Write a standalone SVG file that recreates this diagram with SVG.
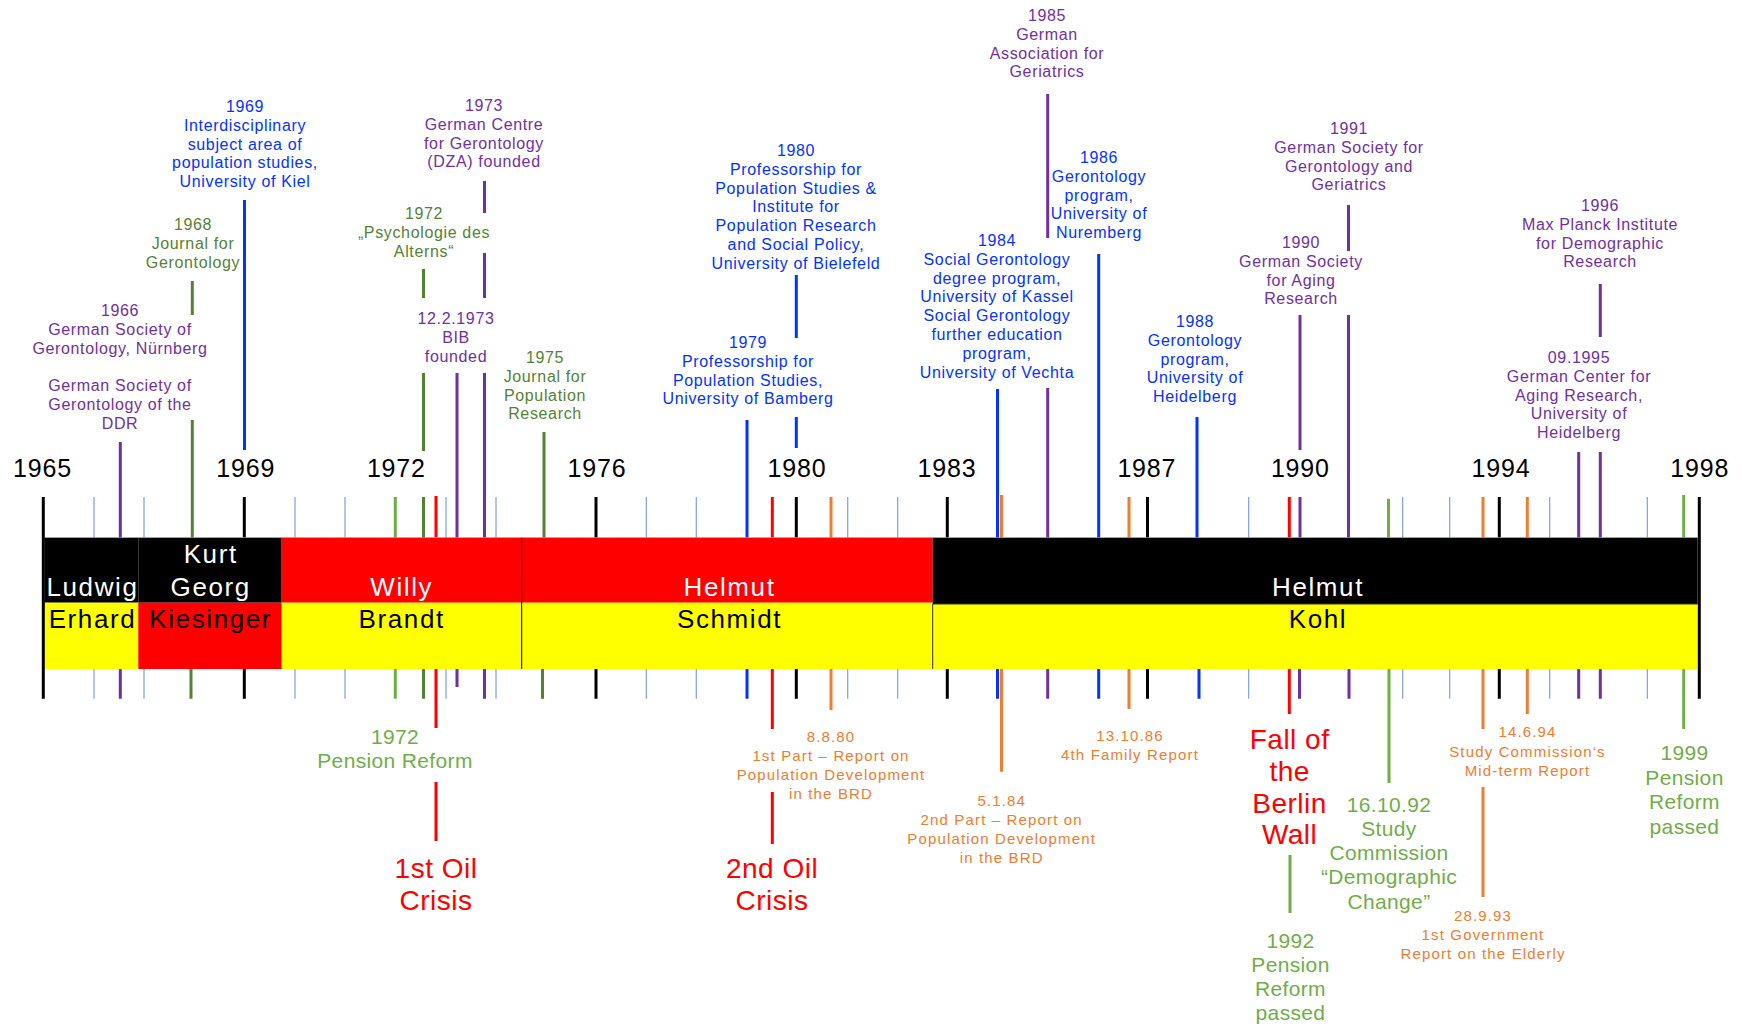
<svg xmlns="http://www.w3.org/2000/svg" width="1742" height="1027" viewBox="0 0 1742 1027">
<style>
text{font-family:"Liberation Sans",Arial,sans-serif;text-anchor:middle}
.s{font-size:16px;letter-spacing:0.65px}
.o{font-size:15px;letter-spacing:1.15px}
.m{font-size:21px;letter-spacing:0.35px}
.b{font-size:28px;letter-spacing:0.5px}
.yr{font-size:25px;letter-spacing:0.8px;fill:#000}
.bt{font-size:26px;letter-spacing:1.6px}
.pu{fill:#7030A0}.bl{fill:#0433FF}.dg{fill:#548235}.lg{fill:#70AD47}.rd{fill:#FF0000}.or{fill:#ED7D31}
.w{fill:#fff}.k{fill:#000}
.ln{fill:none;stroke-width:3}
.lpu{stroke:#7030A0}.lbl{stroke:#0433FF}.ldg{stroke:#548235}.llg{stroke:#70AD47}.lrd{stroke:#FF0000}.lor{stroke:#ED7D31}.lk{stroke:#000}
.minor{fill:none;stroke:#7F9FDD;stroke-width:1.2}
</style>
<rect width="1742" height="1027" fill="#fff"/>
<g id="axis">
<path class="minor" d="M94 497V537.7M94 669V698.7M144 497V537.7M144 669V698.7M295 497V537.7M295 669V698.7M345 497V537.7M345 669V698.7M446 497V537.7M446 669V698.7M496 497V537.7M496 669V698.7M646.3 497V537.7M646.3 669V698.7M696.3 497V537.7M696.3 669V698.7M847.7 497V537.7M847.7 669V698.7M897.7 497V537.7M897.7 669V698.7M1248.7 497V537.7M1248.7 669V698.7M1402.7 497V537.7M1402.7 669V698.7M1449.7 497V537.7M1449.7 669V698.7M1549.7 497V537.7M1549.7 669V698.7M1647.3 497V537.7M1647.3 669V698.7"/>
<path class="ln lk" d="M244.3 497V537.7M244.3 669V698.7M596 497V537.7M596 669V698.7M796.3 497V537.7M796.3 669V698.7M947.3 497V537.7M947.3 669V698.7M1147.5 497V537.7M1147.5 669V698.7M1499.3 497V537.7M1499.3 669V698.7"/>
<text class="yr" x="42.5" y="476.7">1965</text>
<text class="yr" x="245.7" y="476.7">1969</text>
<text class="yr" x="396.3" y="476.7">1972</text>
<text class="yr" x="597" y="476.7">1976</text>
<text class="yr" x="797" y="476.7">1980</text>
<text class="yr" x="947" y="476.7">1983</text>
<text class="yr" x="1146.8" y="476.7">1987</text>
<text class="yr" x="1300.3" y="476.7">1990</text>
<text class="yr" x="1501" y="476.7">1994</text>
<text class="yr" x="1699.7" y="476.7">1998</text>
</g>
<g id="connectors">
<path class="ln lpu" d="M120.3 442V537.7M120.3 669V698.7M457 373V537.7M457 669V687M484.5 181V213M484.5 253V298M484.5 373V537.7M484.5 669V698.7M1047.7 94V238M1047.7 388V537.7M1047.7 669V698.7M1300 315V450M1300 497V537.7M1299.5 669V698.7M1348.5 205V251M1348.5 315V537.7M1349 669V698.7M1578.7 452V537.7M1578.7 669V698.7M1600.3 284V337M1600.3 452V537.7M1600.3 669V698.7"/>
<path class="ln ldg" d="M192.3 281V315M192.3 420V537.7M191 669V698.7M423.5 269V298M423.5 373V451M423.5 497V537.7M423.5 669V698.7M544 432V537.7M542.5 669V698.7"/>
<path class="ln llg" d="M395.3 497V537.7M395.3 669V698.7M1388.5 498.7V537.7M1389 669V783M1683.7 495V537.7M1683.7 669V729M1290 855V913"/>
<path class="ln lbl" d="M244.5 200V450M747 420V537.7M747 669V698.7M796.3 275V338M796.3 417V448M997.5 389V537.7M997.5 669V698.7M1098.7 254V537.7M1098.7 669V698.7M1197 417V537.7M1199 669V698.7"/>
<path class="ln lrd" d="M436 496V537.7M436 669V728M436 782V841M772.3 497V537.7M772.3 669V729M772.3 792V844M1289.3 497V537.7M1289.3 669V714"/>
<path class="ln lor" d="M831 497V537.7M831 669V710M1001.5 495V537.7M1001.5 669V771.7M1129 497V537.7M1129 669V709M1483 497V537.7M1483 669V729M1483 787V897M1527.3 497V537.7M1527.3 669V714"/>
</g>
<g id="chancellors">
<g id="erhard">
<rect x="44.5" y="537.7" width="93.8" height="65" fill="#000"/>
<rect x="44.5" y="602.7" width="93.8" height="66.3" fill="#FFFF00"/>
<text class="bt w" x="92.5" y="596">Ludwig</text>
<text class="bt k" x="92.5" y="628.3">Erhard</text>
</g>
<g id="kiesinger">
<rect x="138.3" y="537.7" width="143.4" height="65" fill="#000"/>
<rect x="138.3" y="602.7" width="143.4" height="66.3" fill="#FF0000"/>
<text class="bt w" x="210.7" y="563.3">Kurt<tspan x="210.7" y="596">Georg</tspan></text>
<text class="bt k" x="210.7" y="628.3">Kiesinger</text>
</g>
<g id="brandt">
<rect x="281.7" y="537.7" width="240" height="65" fill="#FF0000"/>
<rect x="281.7" y="602.7" width="240" height="66.3" fill="#FFFF00"/>
<text class="bt w" x="401.7" y="596">Willy</text>
<text class="bt k" x="401.7" y="628.3">Brandt</text>
</g>
<g id="schmidt">
<rect x="521.7" y="537.7" width="411" height="65" fill="#FF0000"/>
<rect x="521.7" y="602.7" width="411" height="66.3" fill="#FFFF00"/>
<path d="M521.7 537.7V669" stroke="#000" stroke-width="1"/>
<text class="bt w" x="729.5" y="596">Helmut</text>
<text class="bt k" x="729.5" y="628.3">Schmidt</text>
</g>
<g id="kohl">
<rect x="932.7" y="537.7" width="765" height="66.3" fill="#000"/>
<rect x="932.7" y="604" width="765" height="65" fill="#FFFF00"/>
<path d="M932.7 669V604H1697.7" fill="none" stroke="#333" stroke-width="1"/>
<text class="bt w" x="1318" y="596">Helmut</text>
<text class="bt k" x="1318" y="628.3">Kohl</text>
</g>
<path d="M44 537.5H1698" stroke="#999" stroke-width="1" opacity="0.6"/>
<path class="ln lk" d="M43.3 497V698.7M1699.3 497V698.7"/>
</g>
<g id="events-above">
<g id="e1966"><text class="s pu" x="120" y="316">1966<tspan x="120" y="334.8">German Society of</tspan><tspan x="120" y="353.6">Gerontology, Nürnberg</tspan></text></g>
<g id="eDDR"><text class="s pu" x="120" y="391">German Society of<tspan x="120" y="409.8">Gerontology of the</tspan><tspan x="120" y="428.6">DDR</tspan></text></g>
<g id="e1968"><text class="s dg" x="193" y="230">1968<tspan x="193" y="248.8">Journal for</tspan><tspan x="193" y="267.6">Gerontology</tspan></text></g>
<g id="e1969"><text class="s bl" x="245" y="112">1969<tspan x="245" y="130.8">Interdisciplinary</tspan><tspan x="245" y="149.6">subject area of</tspan><tspan x="245" y="168.4">population studies,</tspan><tspan x="245" y="187.2">University of Kiel</tspan></text></g>
<g id="e1972p"><text class="s dg" x="424" y="219">1972<tspan x="424" y="237.8">„Psychologie des</tspan><tspan x="424" y="256.6">Alterns“</tspan></text></g>
<g id="e1973"><text class="s pu" x="484" y="111">1973<tspan x="484" y="129.8">German Centre</tspan><tspan x="484" y="148.6">for Gerontology</tspan><tspan x="484" y="167.4">(DZA) founded</tspan></text></g>
<g id="eBIB"><text class="s pu" x="456" y="324">12.2.1973<tspan x="456" y="342.8">BIB</tspan><tspan x="456" y="361.6">founded</tspan></text></g>
<g id="e1975"><text class="s dg" x="545" y="363">1975<tspan x="545" y="381.8">Journal for</tspan><tspan x="545" y="400.6">Population</tspan><tspan x="545" y="419.4">Research</tspan></text></g>
<g id="e1979"><text class="s bl" x="748" y="348">1979<tspan x="748" y="366.8">Professorship for</tspan><tspan x="748" y="385.6">Population Studies,</tspan><tspan x="748" y="404.4">University of Bamberg</tspan></text></g>
<g id="e1980"><text class="s bl" x="796" y="156">1980<tspan x="796" y="174.8">Professorship for</tspan><tspan x="796" y="193.6">Population Studies &amp;</tspan><tspan x="796" y="212.4">Institute for</tspan><tspan x="796" y="231.2">Population Research</tspan><tspan x="796" y="250">and Social Policy,</tspan><tspan x="796" y="268.8">University of Bielefeld</tspan></text></g>
<g id="e1985"><text class="s pu" x="1047" y="21">1985<tspan x="1047" y="39.8">German</tspan><tspan x="1047" y="58.6">Association for</tspan><tspan x="1047" y="77.4">Geriatrics</tspan></text></g>
<g id="e1984"><text class="s bl" x="997" y="246">1984<tspan x="997" y="264.8">Social Gerontology</tspan><tspan x="997" y="283.6">degree program,</tspan><tspan x="997" y="302.4">University of Kassel</tspan><tspan x="997" y="321.2">Social Gerontology</tspan><tspan x="997" y="340">further education</tspan><tspan x="997" y="358.8">program,</tspan><tspan x="997" y="377.6">University of Vechta</tspan></text></g>
<g id="e1986"><text class="s bl" x="1099" y="163">1986<tspan x="1099" y="181.8">Gerontology</tspan><tspan x="1099" y="200.6">program,</tspan><tspan x="1099" y="219.4">University of</tspan><tspan x="1099" y="238.2">Nuremberg</tspan></text></g>
<g id="e1988"><text class="s bl" x="1195" y="327">1988<tspan x="1195" y="345.8">Gerontology</tspan><tspan x="1195" y="364.6">program,</tspan><tspan x="1195" y="383.4">University of</tspan><tspan x="1195" y="402.2">Heidelberg</tspan></text></g>
<g id="e1990"><text class="s pu" x="1301" y="248">1990<tspan x="1301" y="266.8">German Society</tspan><tspan x="1301" y="285.6">for Aging</tspan><tspan x="1301" y="304.4">Research</tspan></text></g>
<g id="e1991"><text class="s pu" x="1349" y="134">1991<tspan x="1349" y="152.8">German Society for</tspan><tspan x="1349" y="171.6">Gerontology and</tspan><tspan x="1349" y="190.4">Geriatrics</tspan></text></g>
<g id="e1996"><text class="s pu" x="1600" y="211">1996<tspan x="1600" y="229.8">Max Planck Institute</tspan><tspan x="1600" y="248.6">for Demographic</tspan><tspan x="1600" y="267.4">Research</tspan></text></g>
<g id="e1995"><text class="s pu" x="1579" y="363">09.1995<tspan x="1579" y="381.8">German Center for</tspan><tspan x="1579" y="400.6">Aging Research,</tspan><tspan x="1579" y="419.4">University of</tspan><tspan x="1579" y="438.2">Heidelberg</tspan></text></g>
</g>
<g id="events-below">
<g id="e1972r"><text class="m lg" x="395" y="744">1972<tspan x="395" y="768">Pension Reform</tspan></text></g>
<g id="oil1"><text class="b rd" x="436" y="878">1st Oil<tspan x="436" y="910">Crisis</tspan></text></g>
<g id="oil2"><text class="b rd" x="772" y="878">2nd Oil<tspan x="772" y="910">Crisis</tspan></text></g>
<g id="r1980"><text class="o or" x="831" y="742">8.8.80<tspan x="831" y="761">1st Part – Report on</tspan><tspan x="831" y="780">Population Development</tspan><tspan x="831" y="799">in the BRD</tspan></text></g>
<g id="r1984"><text class="o or" x="1001.7" y="806">5.1.84<tspan x="1001.7" y="825">2nd Part – Report on</tspan><tspan x="1001.7" y="844">Population Development</tspan><tspan x="1001.7" y="863">in the BRD</tspan></text></g>
<g id="r1986"><text class="o or" x="1130" y="740.7">13.10.86<tspan x="1130" y="760">4th Family Report</tspan></text></g>
<g id="wall"><text class="b rd" x="1289.6" y="749">Fall of<tspan x="1289.6" y="780.8">the</tspan><tspan x="1289.6" y="812.6">Berlin</tspan><tspan x="1289.6" y="844.4">Wall</tspan></text></g>
<g id="p1992"><text class="m lg" x="1290.5" y="947.7">1992<tspan x="1290.5" y="971.7">Pension</tspan><tspan x="1290.5" y="996">Reform</tspan><tspan x="1290.5" y="1020">passed</tspan></text></g>
<g id="sc1992"><text class="m lg" x="1389" y="811.7">16.10.92<tspan x="1389" y="836">Study</tspan><tspan x="1389" y="860.2">Commission</tspan><tspan x="1389" y="884.4">“Demographic</tspan><tspan x="1389" y="908.6">Change”</tspan></text></g>
<g id="r1993"><text class="o or" x="1483" y="920.7">28.9.93<tspan x="1483" y="940">1st Government</tspan><tspan x="1483" y="959.3">Report on the Elderly</tspan></text></g>
<g id="r1994"><text class="o or" x="1527.5" y="737.3">14.6.94<tspan x="1527.5" y="757">Study Commission‘s</tspan><tspan x="1527.5" y="776.3">Mid-term Report</tspan></text></g>
<g id="p1999"><text class="m lg" x="1684.5" y="760">1999<tspan x="1684.5" y="784.5">Pension</tspan><tspan x="1684.5" y="809">Reform</tspan><tspan x="1684.5" y="833.5">passed</tspan></text></g>
</g>
</svg>
